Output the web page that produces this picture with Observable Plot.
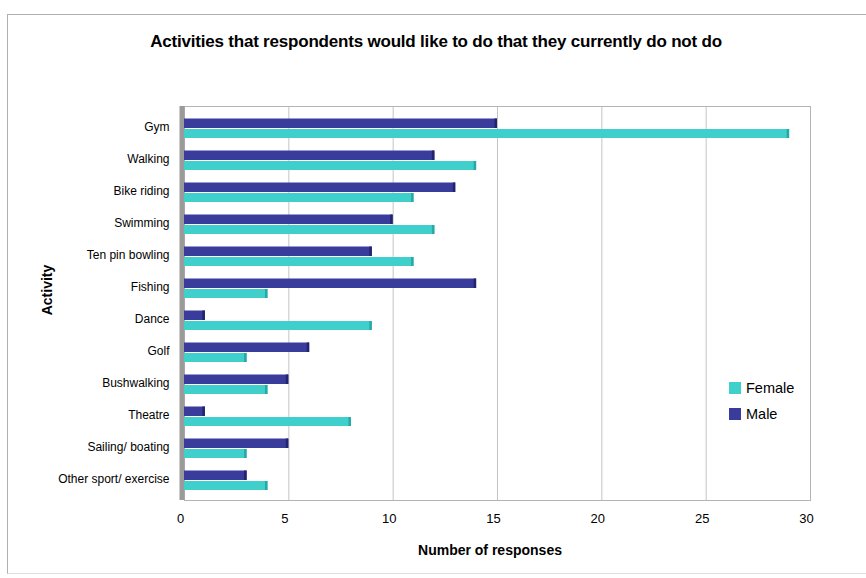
<!DOCTYPE html>
<html>
<head>
<meta charset="utf-8">
<script src="https://cdn.jsdelivr.net/npm/d3@7"></script>
<script src="https://cdn.jsdelivr.net/npm/@observablehq/plot@0.6"></script>
<style>
  body { margin: 0; background: #fff; font-family: "Liberation Sans", Arial, sans-serif; }
  #wrap { position: relative; width: 866px; height: 578px; overflow: hidden; }
  #border { position: absolute; left: 7px; top: 14px; width: 900px; height: 558px; border-left: 1.5px solid #b0b0b0; border-top: 1.5px solid #b0b0b0; border-bottom: 1px solid #e0e0e0; }
  #title { position: absolute; top: 32px; left: 0; width: 872px; text-align: center; font-weight: bold; font-size: 17px; color: #000; letter-spacing: -0.2px; }
  #chart { position: absolute; left: 0; top: 0; }
  #xlabel { position: absolute; top: 542px; left: 390px; width: 200px; text-align: center; font-weight: bold; font-size: 14px; }
  #ylabel { position: absolute; left: 47px; top: 290px; transform: translate(-50%, -50%) rotate(-90deg); font-weight: bold; font-size: 14px; }
  #legend { position: absolute; left: 729px; top: 375px; font-size: 14.5px; }
  .li { display: flex; align-items: center; height: 26px; }
  .sw { width: 12px; height: 12px; margin-right: 5px; }
</style>
</head>
<body>
<div id="wrap">
  <div id="border"></div>
  <div id="chart"></div>
  <div id="title">Activities that respondents would like to do that they currently do not do</div>
  <div id="xlabel">Number of responses</div>
  <div id="ylabel">Activity</div>
  <div id="legend"></div>
</div>
<script>
const activities = ["Gym","Walking","Bike riding","Swimming","Ten pin bowling","Fishing","Dance","Golf","Bushwalking","Theatre","Sailing/ boating","Other sport/ exercise"];
const male =   [15,12,13,10, 9,14,1,6,5,1,5,3];
const female = [29,14,11,12,11, 4,9,3,4,8,3,4];
const xTicks = [0,5,10,15,20,25,30];
const series = ["Female","Male"];
const colors = {Female: "#3fd0cc", Male: "#3a3c9c"};
const capColors = {Female: "#2aa8a6", Male: "#22246e"};

const maleData = activities.map((a, i) => ({activity: a, value: male[i], sex: "Male"}));
const femaleData = activities.map((a, i) => ({activity: a, value: female[i], sex: "Female"}));

const chart = Plot.plot({
  width: 866,
  height: 578,
  marginTop: 106,
  marginBottom: 78,
  marginLeft: 184,
  marginRight: 56,
  style: {fontFamily: "Liberation Sans, Arial, sans-serif", fontSize: "12px", color: "#000", background: "transparent"},
  x: {domain: [0, 30], label: null},
  y: {domain: activities, padding: 0, label: null},
  marks: [
    Plot.ruleX(xTicks.slice(1), {stroke: "#c4c4c4", strokeWidth: 1}),
    Plot.frame({stroke: "#b4b4b4"}),
    Plot.ruleX([0], {stroke: "#9a9a9a", strokeWidth: 5, dx: -2.5}),
    Plot.axisX({ticks: xTicks, tickSize: 0, tickPadding: 13, tickFormat: d3.format("d"), dx: -4, fontSize: 13, label: null}),
    Plot.axisY({tickSize: 0, tickPadding: 15, fontSize: 12, label: null}),
    Plot.barX(maleData, {x: "value", y: "activity", fill: colors.Male, insetTop: 7.5, insetBottom: 15}),
    Plot.barX(maleData, {x1: d => d.value - 0.12, x2: "value", y: "activity", fill: capColors.Male, insetTop: 7.5, insetBottom: 15}),
    Plot.barX(femaleData, {x: "value", y: "activity", fill: colors.Female, insetTop: 18, insetBottom: 5}),
    Plot.barX(femaleData, {x1: d => d.value - 0.12, x2: "value", y: "activity", fill: capColors.Female, insetTop: 18, insetBottom: 5})
  ]
});
document.getElementById("chart").appendChild(chart);

const legend = document.getElementById("legend");
for (const s of series) {
  const row = document.createElement("div");
  row.className = "li";
  row.innerHTML = `<span class="sw" style="background:${colors[s]}"></span><span>${s}</span>`;
  legend.appendChild(row);
}
</script>
</body>
</html>
